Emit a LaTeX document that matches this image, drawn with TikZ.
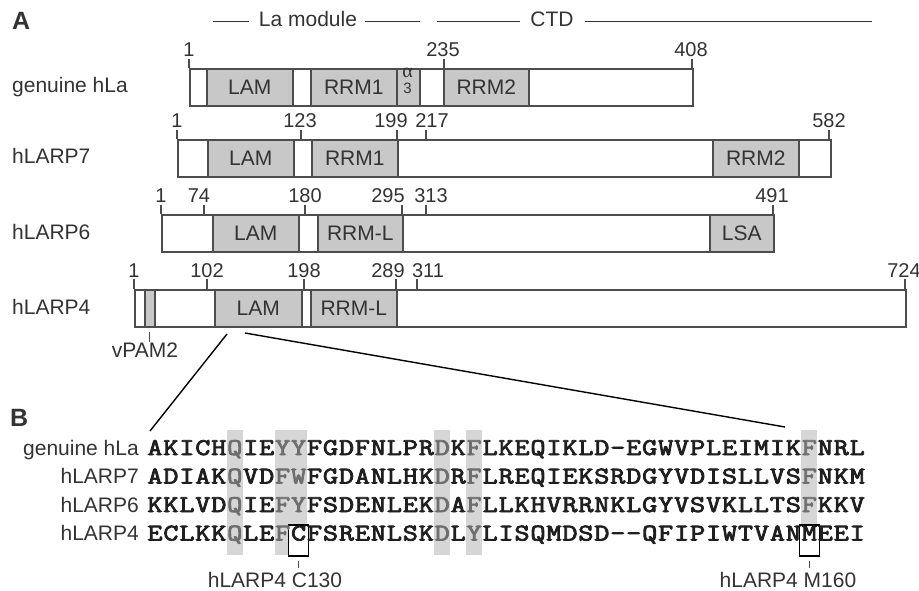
\documentclass[tikz,border=0pt]{standalone}
\usepackage{fontspec}
\setmainfont{Liberation Sans}
\newfontfamily\monob{Latin Modern Mono}[FakeBold=3]
\newfontfamily\serifa{Liberation Serif}
\definecolor{textc}{HTML}{333333}
\definecolor{boxline}{HTML}{4D4D4D}
\definecolor{domgray}{HTML}{C8C8C8}
\definecolor{colgray}{HTML}{D6D6D6}
\definecolor{seqgray}{HTML}{6E6E6E}
\newcommand\gq{\color{seqgray}}
\newcommand\wideglyph[1]{\scalebox{1.22}[1]{#1}}
\begin{document}
\begin{tikzpicture}[x=1pt,y=-1pt,
  lbl/.style={text=textc, inner sep=0pt, font=\fontsize{21}{25}\selectfont},
  num/.style={text=textc, inner sep=0pt, anchor=base, font=\fontsize{20}{24}\selectfont},
  panel/.style={text=textc, inner sep=0pt, anchor=base west, font=\fontsize{25}{28}\selectfont\bfseries},
  bar/.style={draw=boxline, fill=white, line width=1.6pt, minimum height=37pt, inner sep=0pt, anchor=north west},
  dom/.style={draw=boxline, fill=domgray, line width=1.6pt, minimum height=37pt, inner sep=0pt, text=textc, font=\fontsize{21}{25}\selectfont, anchor=north west},
  tk/.style={draw=boxline, line width=1.3pt},
  hdr/.style={draw=textc, line width=1pt},
  zoomln/.style={draw=black, line width=1.4pt},
  seq/.style={inner sep=0pt, anchor=base, text=black!88, font=\monob\fontsize{24}{28}\selectfont},
  colbg/.style={fill=colgray, draw=none},
  selbox/.style={draw=black, fill=white, line width=1.4pt},
]
\useasboundingbox (0,0) rectangle (919,591);

% ---------------- Panel A ----------------
\node[panel] (labA) at (12,30) {A};
\node[lbl, anchor=base] (lamod) at (308,27) {La module};
\node[lbl, anchor=base] (ctd) at (552,27) {CTD};
\coordinate (h1a) at (213,22); \coordinate (h1b) at (249,22);
\coordinate (h2a) at (365,22); \coordinate (h2b) at (420,22);
\coordinate (h3a) at (437,22); \coordinate (h3b) at (520,22);
\coordinate (h4a) at (585,22); \coordinate (h4b) at (872,22);
\draw[hdr] (h1a) -- (h1b);
\draw[hdr] (h2a) -- (h2b);
\draw[hdr] (h3a) -- (h3b);
\draw[hdr] (h4a) -- (h4b);

% genuine hLa
\node[lbl, anchor=base west] (nhla) at (12,93) {genuine hLa};
\node[bar, minimum width=503pt] (hla) at (189,68) {};
\node[dom, minimum width=86pt] (hlaLAM) at (206,68) {LAM};
\node[dom, minimum width=86pt] (hlaRRM1) at (310,68) {RRM1};
\node[dom, minimum width=23pt] (hlaA3) at (396,68) {};
\node[inner sep=0pt, text=textc, font=\serifa\fontsize{20}{20}\selectfont, anchor=base] (alpha) at (407.5,78) {α};
\node[inner sep=0pt, text=textc, font=\fontsize{15}{15}\selectfont, anchor=base] (three) at (407.5,93.5) {3};
\node[dom, minimum width=85pt] (hlaRRM2) at (443,68) {RRM2};
\foreach \x/\lx/\t in {189/189/1, 444/443/235, 692/691/408}{
  \node[num] (n\t a) at (\lx,57) {\t};
  \draw[tk] (\x,59) -- (\x,68);
}

% hLARP7
\node[lbl, anchor=base west] (n7) at (12,164) {hLARP7};
\node[bar, minimum width=653pt] (l7) at (177,139) {};
\node[dom, minimum width=86pt] (l7LAM) at (207,139) {LAM};
\node[dom, minimum width=86pt] (l7RRM1) at (311,139) {RRM1};
\node[dom, minimum width=86pt] (l7RRM2) at (712,139) {RRM2};
\foreach \x/\lx/\t in {177/177/1, 301/300/123, 397/391/199, 426/432/217, 829/829/582}{
  \node[num] (n\t b) at (\lx,128) {\t};
  \draw[tk] (\x,130) -- (\x,139);
}

% hLARP6
\node[lbl, anchor=base west] (n6) at (12,239) {hLARP6};
\node[bar, minimum width=612pt] (l6) at (161,214) {};
\node[dom, minimum width=86pt] (l6LAM) at (212,214) {LAM};
\node[dom, minimum width=85pt] (l6RRM) at (317,214) {RRM-L};
\node[dom, minimum width=64pt] (l6LSA) at (709,214) {LSA};
\foreach \x/\lx/\t in {161/161/1, 204/199/74, 305/305/180, 402/388/295, 426/431/313, 773/772/491}{
  \node[num] (n\t c) at (\lx,203) {\t};
  \draw[tk] (\x,205) -- (\x,214);
}

% hLARP4
\node[lbl, anchor=base west] (n4) at (12,314) {hLARP4};
\node[bar, minimum width=771pt] (l4) at (134,289) {};
\node[dom, minimum width=10pt] (l4PAM) at (144,289) {};
\node[dom, minimum width=87pt] (l4LAM) at (214,289) {LAM};
\node[dom, minimum width=86pt] (l4RRM) at (310,289) {RRM-L};
\foreach \x/\lx/\t in {134/134/1, 207/207/102, 304/304/198, 396/388/289, 417/428/311, 905/904/724}{
  \node[num] (n\t d) at (\lx,277) {\t};
  \draw[tk] (\x,279) -- (\x,289);
}
\node[lbl, anchor=base] (vpam) at (145,357) {vPAM2};
\draw[tk] (l4PAM.south) ++(0,4) -- ++(0,10);

% zoom lines
\coordinate (zl1) at (227,334);
\coordinate (zl2) at (150,431);
\coordinate (zr1) at (245,333);
\coordinate (zr2) at (785,427);
\draw[zoomln] (zl1) -- (zl2);
\draw[zoomln] (zr1) -- (zr2);

% ---------------- Panel B ----------------
\node[panel] (labB) at (10,426) {B};

% conserved columns
\foreach \c/\w in {5/1, 8/2, 18/1, 20/1, 41/1}{
  \fill[colbg] (147+\c*15.96,430) rectangle (147+\c*15.96+\w*15.96,555);
}
% boxed residues (white inside)
\node[selbox, minimum width=20pt, minimum height=31pt, inner sep=0pt] (boxC) at (147+9.5*15.96,540.5) {};
\node[selbox, minimum width=20pt, minimum height=31pt, inner sep=0pt] (boxM) at (147+41.5*15.96,540.5) {};

\node[lbl, anchor=base east] (s1) at (139,455) {genuine hLa};
\node[lbl, anchor=base east] (s2) at (139,483.5) {hLARP7};
\node[lbl, anchor=base east] (s3) at (139,512) {hLARP6};
\node[lbl, anchor=base east] (s4) at (139,540.5) {hLARP4};

\foreach \ch [count=\i from 0] in {A,K,I,C,H,\gq Q,I,E,\gq Y,\gq Y,F,G,D,F,N,L,P,R,\gq D,K,\gq F,L,K,E,Q,I,K,L,D,-,E,G,W,V,P,L,E,I,M,I,K,\gq F,N,R,L}
  \node[seq] (ra\i) at (147+7.98+\i*15.96,455) {\wideglyph{\ch}};
\foreach \ch [count=\i from 0] in {A,D,I,A,K,\gq Q,V,D,\gq F,\gq W,F,G,D,A,N,L,H,K,\gq D,R,\gq F,L,R,E,Q,I,E,K,S,R,D,G,Y,V,D,I,S,L,L,V,S,\gq F,N,K,M}
  \node[seq] (rb\i) at (147+7.98+\i*15.96,483.5) {\wideglyph{\ch}};
\foreach \ch [count=\i from 0] in {K,K,L,V,D,\gq Q,I,E,\gq F,\gq Y,F,S,D,E,N,L,E,K,\gq D,A,\gq F,L,L,K,H,V,R,R,N,K,L,G,Y,V,S,V,K,L,L,T,S,\gq F,K,K,V}
  \node[seq] (rc\i) at (147+7.98+\i*15.96,512) {\wideglyph{\ch}};
\foreach \ch [count=\i from 0] in {E,C,L,K,K,\gq Q,L,E,\gq F,C,F,S,R,E,N,L,S,K,\gq D,L,\gq Y,L,I,S,Q,M,D,S,D,-,-,Q,F,I,P,I,W,T,V,A,N,M,E,E,I}
  \node[seq] (rd\i) at (147+7.98+\i*15.96,540.5) {\wideglyph{\ch}};

% residue annotations
\draw[tk, line width=1pt] (boxC.south) ++(0,4) -- ++(0,7);
\draw[tk, line width=1pt] (boxM.south) ++(0,4) -- ++(0,7);
\node[lbl, anchor=base] (lc130) at (275,587) {hLARP4 C130};
\node[lbl, anchor=base] (lm160) at (788,587) {hLARP4 M160};
\end{tikzpicture}
\end{document}
